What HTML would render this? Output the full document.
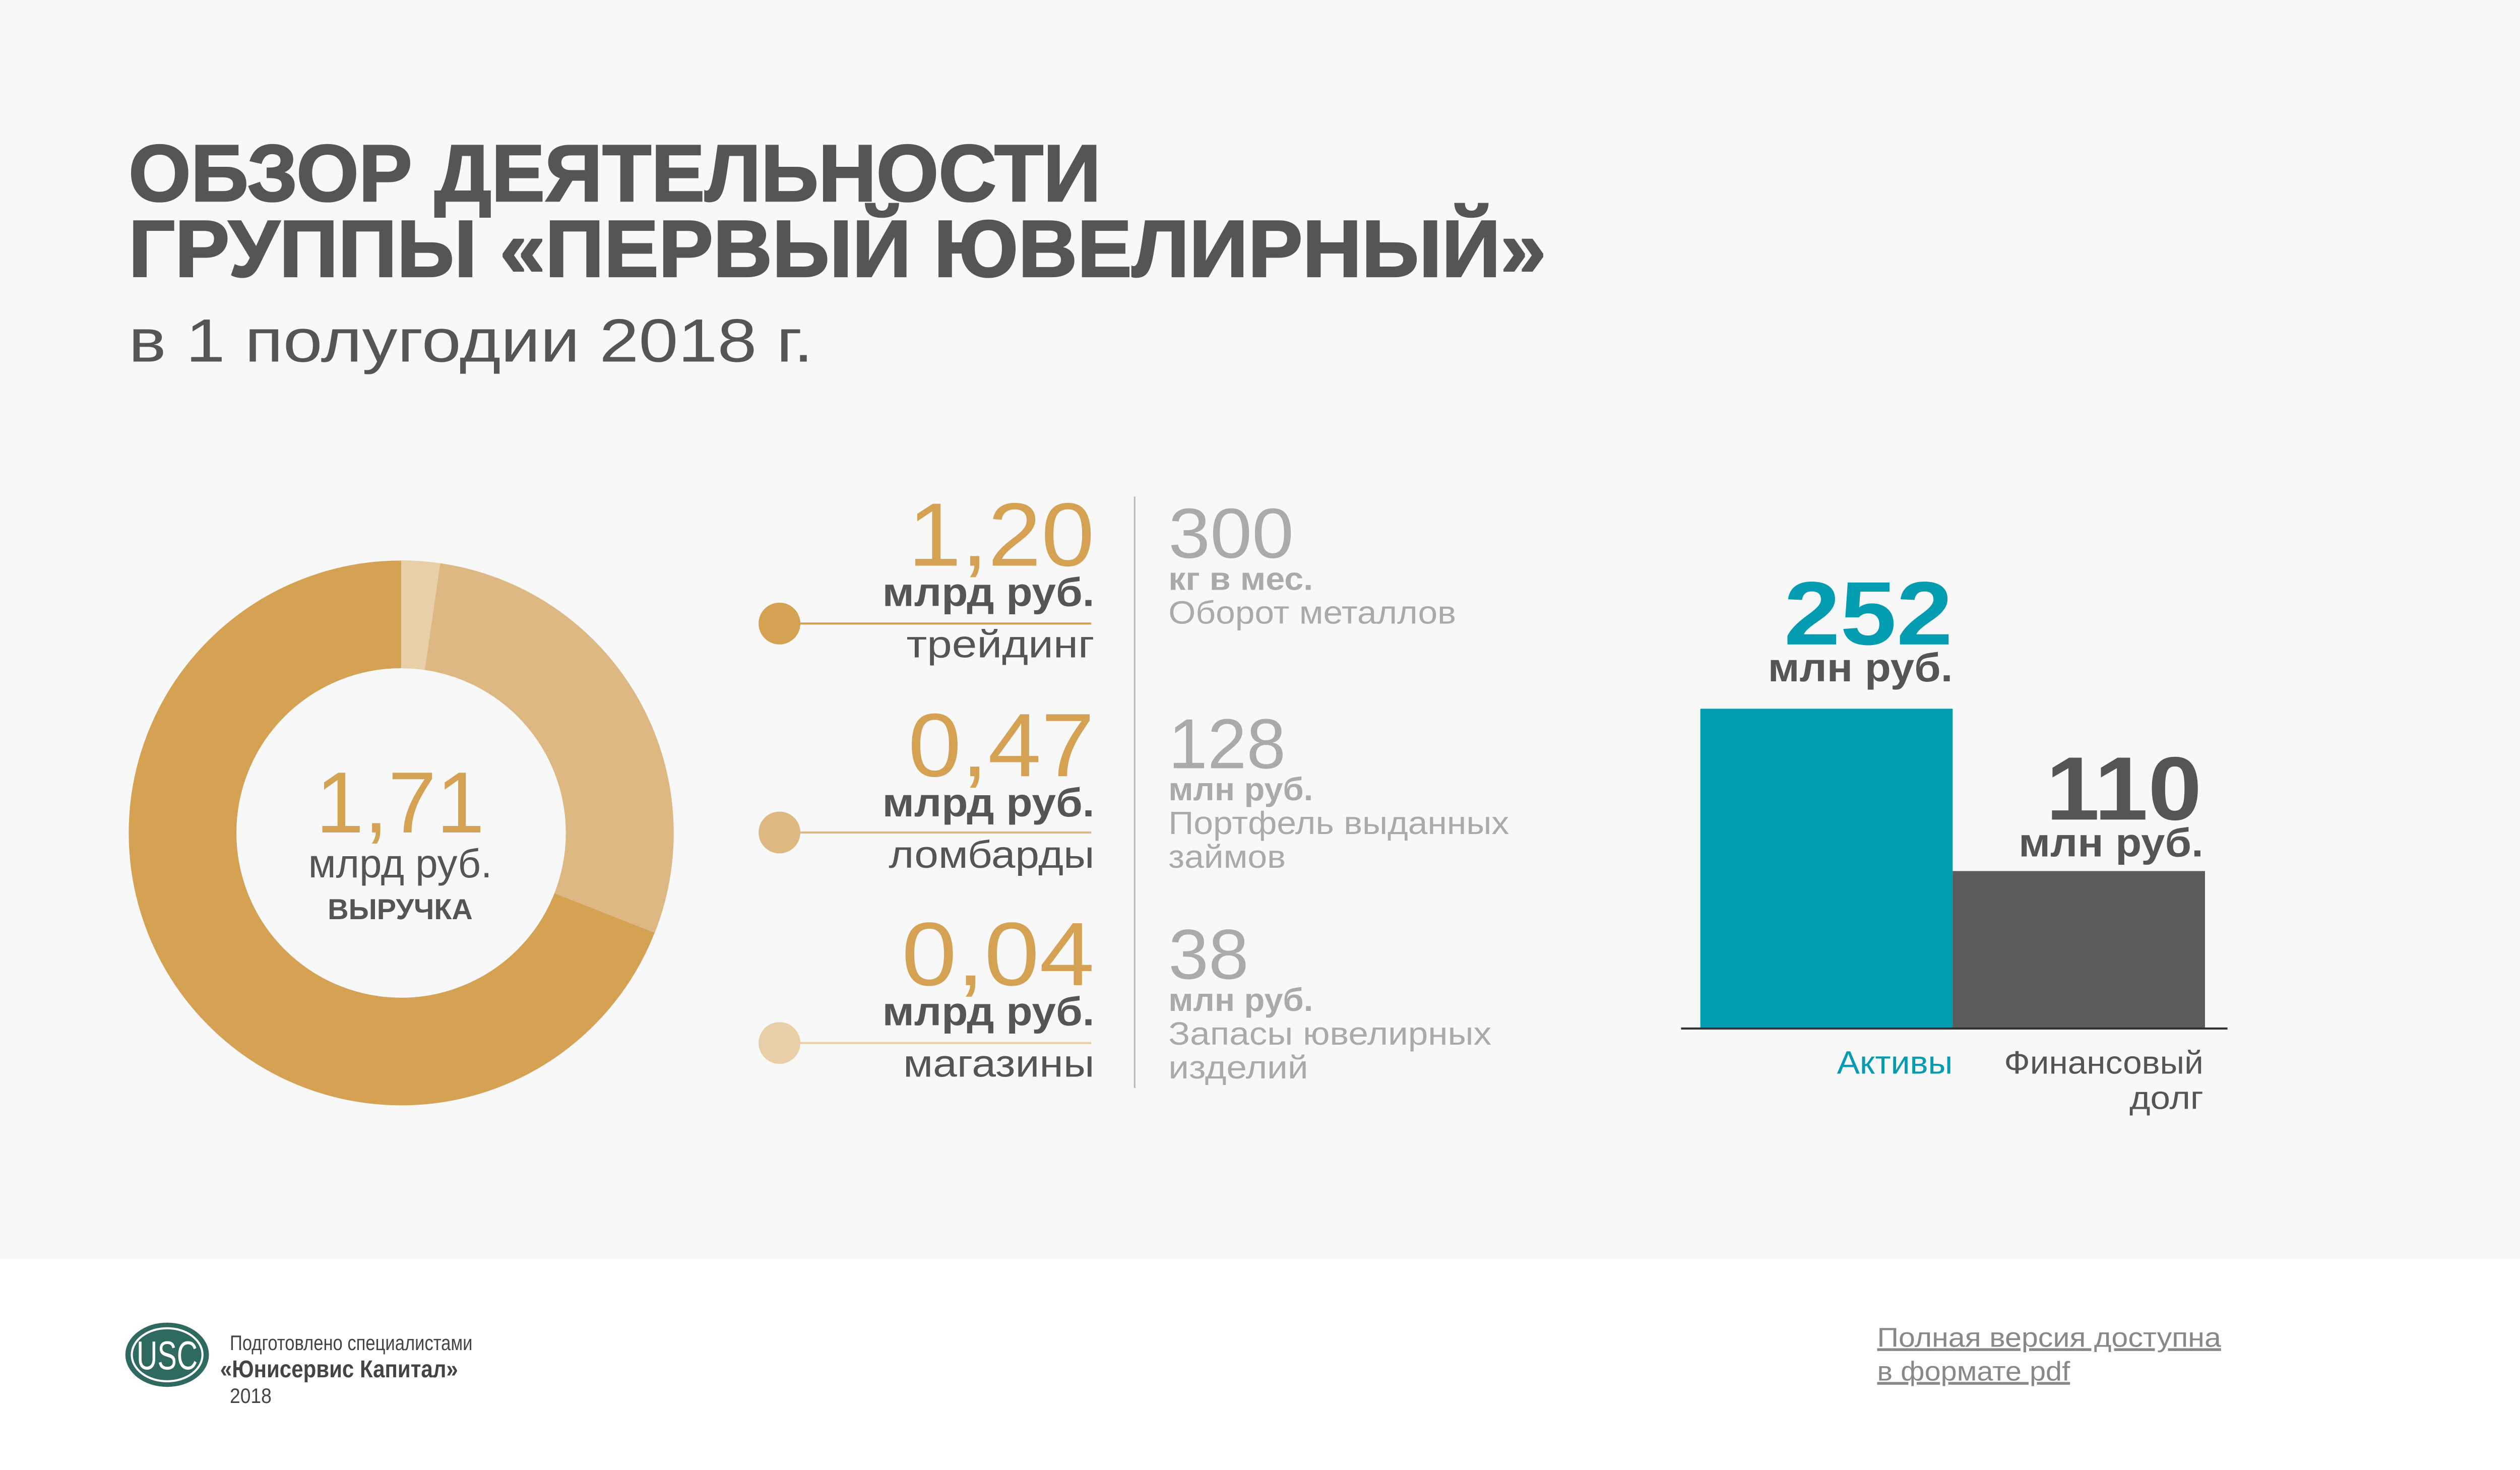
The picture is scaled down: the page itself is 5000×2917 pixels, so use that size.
<!DOCTYPE html>
<html><head><meta charset="utf-8"><style>
html,body{margin:0;padding:0;background:#f8f8f8}
svg{display:block}
text{font-family:"Liberation Sans","DejaVu Sans",sans-serif}
</style></head><body>
<svg width="5000" height="2917" viewBox="0 0 1568 914.7" preserveAspectRatio="none">
<rect x="0" y="0" width="1568" height="783" fill="#f8f8f8"/>
<rect x="0" y="783" width="1568" height="132" fill="#ffffff"/>
<text x="80" y="125" font-size="50" font-weight="bold" fill="#555" stroke="#555" stroke-width="1" textLength="605" lengthAdjust="spacingAndGlyphs">ОБЗОР ДЕЯТЕЛЬНОСТИ</text>
<text x="80" y="172" font-size="50" font-weight="bold" fill="#555" stroke="#555" stroke-width="1" textLength="882" lengthAdjust="spacingAndGlyphs">ГРУППЫ «ПЕРВЫЙ ЮВЕЛИРНЫЙ»</text>
<text x="80" y="225" font-size="38" fill="#555" textLength="426" lengthAdjust="spacingAndGlyphs">в 1 полугодии 2018 г.</text>
<g transform="translate(249.6,518.3)">
<circle r="136" fill="none" stroke="#d4a252" stroke-width="67"/>
<path d="M0,-169.6 A169.6,169.6 0 0 1 24.4,-167.8 L14.8,-101.4 A102.5,102.5 0 0 0 0,-102.5 Z" fill="#e8cfa8"/>
<path d="M24.4,-167.8 A169.6,169.6 0 0 1 157.8,62.2 L95.4,37.6 A102.5,102.5 0 0 0 14.8,-101.4 Z" fill="#ddb882"/>
</g>
<text x="249" y="518" font-size="54" fill="#d4a252" text-anchor="middle">1,71</text>
<text x="249" y="546" font-size="25" fill="#555" text-anchor="middle">млрд руб.</text>
<text x="249" y="572" font-size="18" font-weight="bold" fill="#555" text-anchor="middle">ВЫРУЧКА</text>
<g fill="#d4a252" font-size="56" text-anchor="end">
<text x="681" y="352" textLength="116" lengthAdjust="spacingAndGlyphs">1,20</text>
<text x="681" y="483" textLength="116" lengthAdjust="spacingAndGlyphs">0,47</text>
<text x="681" y="613" textLength="120" lengthAdjust="spacingAndGlyphs">0,04</text>
</g>
<g fill="#555" font-size="25" font-weight="bold" text-anchor="end">
<text x="681" y="377" textLength="132" lengthAdjust="spacingAndGlyphs">млрд руб.</text>
<text x="681" y="508" textLength="132" lengthAdjust="spacingAndGlyphs">млрд руб.</text>
<text x="681" y="638" textLength="132" lengthAdjust="spacingAndGlyphs">млрд руб.</text>
</g>
<g fill="#555" font-size="24" text-anchor="end">
<text x="681" y="409" textLength="117" lengthAdjust="spacingAndGlyphs">трейдинг</text>
<text x="681" y="540" textLength="128" lengthAdjust="spacingAndGlyphs">ломбарды</text>
<text x="681" y="670" textLength="119" lengthAdjust="spacingAndGlyphs">магазины</text>
</g>
<line x1="495" y1="388" x2="679" y2="388" stroke="#d4a252" stroke-width="1.3"/>
<line x1="495" y1="518" x2="679" y2="518" stroke="#ddb882" stroke-width="1.3"/>
<line x1="495" y1="649" x2="679" y2="649" stroke="#e8cfa8" stroke-width="1.3"/>
<circle cx="485" cy="388" r="13" fill="#d4a252"/>
<circle cx="485" cy="518" r="13" fill="#ddb882"/>
<circle cx="485" cy="649" r="13" fill="#e8cfa8"/>
<line x1="706" y1="309" x2="706" y2="677" stroke="#bbb" stroke-width="1"/>
<g fill="#aaa">
<text x="727" y="347" font-size="44" textLength="78" lengthAdjust="spacingAndGlyphs">300</text>
<text x="727" y="367" font-size="20" font-weight="bold" textLength="90" lengthAdjust="spacingAndGlyphs">кг в мес.</text>
<text x="727" y="388" font-size="20" textLength="179" lengthAdjust="spacingAndGlyphs">Оборот металлов</text>
<text x="727" y="478" font-size="44" textLength="73" lengthAdjust="spacingAndGlyphs">128</text>
<text x="727" y="498" font-size="20" font-weight="bold" textLength="90" lengthAdjust="spacingAndGlyphs">млн руб.</text>
<text x="727" y="519" font-size="20" textLength="212" lengthAdjust="spacingAndGlyphs">Портфель выданных</text>
<text x="727" y="540" font-size="20" textLength="73" lengthAdjust="spacingAndGlyphs">займов</text>
<text x="727" y="609" font-size="44" textLength="50" lengthAdjust="spacingAndGlyphs">38</text>
<text x="727" y="629" font-size="20" font-weight="bold" textLength="90" lengthAdjust="spacingAndGlyphs">млн руб.</text>
<text x="727" y="650" font-size="20" textLength="201" lengthAdjust="spacingAndGlyphs">Запасы ювелирных</text>
<text x="727" y="671" font-size="20" textLength="87" lengthAdjust="spacingAndGlyphs">изделий</text>
</g>
<rect x="1058" y="441" width="157" height="199" fill="#039cb0"/>
<rect x="1215" y="542" width="157" height="98" fill="#5b5b5d"/>
<line x1="1046" y1="640" x2="1386" y2="640" stroke="#333" stroke-width="1.3"/>
<text x="1215" y="401" font-size="56" font-weight="bold" fill="#039cb0" text-anchor="end" textLength="105" lengthAdjust="spacingAndGlyphs">252</text>
<text x="1215" y="424" font-size="25" font-weight="bold" fill="#555" text-anchor="end" textLength="115" lengthAdjust="spacingAndGlyphs">млн руб.</text>
<text x="1370" y="510" font-size="56" font-weight="bold" fill="#555" text-anchor="end" textLength="97" lengthAdjust="spacingAndGlyphs">110</text>
<text x="1371" y="533" font-size="25" font-weight="bold" fill="#555" text-anchor="end" textLength="115" lengthAdjust="spacingAndGlyphs">млн руб.</text>
<text x="1215" y="668" font-size="20" fill="#039cb0" text-anchor="end" textLength="72" lengthAdjust="spacingAndGlyphs">Активы</text>
<text x="1371" y="668" font-size="20" fill="#555" text-anchor="end" textLength="124" lengthAdjust="spacingAndGlyphs">Финансовый</text>
<text x="1371" y="690" font-size="20" fill="#555" text-anchor="end" textLength="46" lengthAdjust="spacingAndGlyphs">долг</text>
<ellipse cx="104" cy="843" rx="26" ry="20" fill="#2e6a5f"/>
<ellipse cx="104" cy="843" rx="22" ry="16.5" fill="none" stroke="#fff" stroke-width="1.3"/>
<text x="104" y="852" font-size="25" fill="#fff" text-anchor="middle" textLength="38" lengthAdjust="spacingAndGlyphs">USC</text>
<text x="143" y="840" font-size="13" fill="#444" textLength="151" lengthAdjust="spacingAndGlyphs">Подготовлено специалистами</text>
<text x="137" y="857" font-size="15" font-weight="bold" fill="#444" textLength="148" lengthAdjust="spacingAndGlyphs">«Юнисервис Капитал»</text>
<text x="143" y="873" font-size="13" fill="#444" textLength="26" lengthAdjust="spacingAndGlyphs">2018</text>
<text x="1168" y="838" font-size="17" fill="#888" text-decoration="underline" textLength="214" lengthAdjust="spacingAndGlyphs">Полная версия доступна</text>
<text x="1168" y="859" font-size="17" fill="#888" text-decoration="underline" textLength="120" lengthAdjust="spacingAndGlyphs">в формате pdf</text>
</svg>
</body></html>
